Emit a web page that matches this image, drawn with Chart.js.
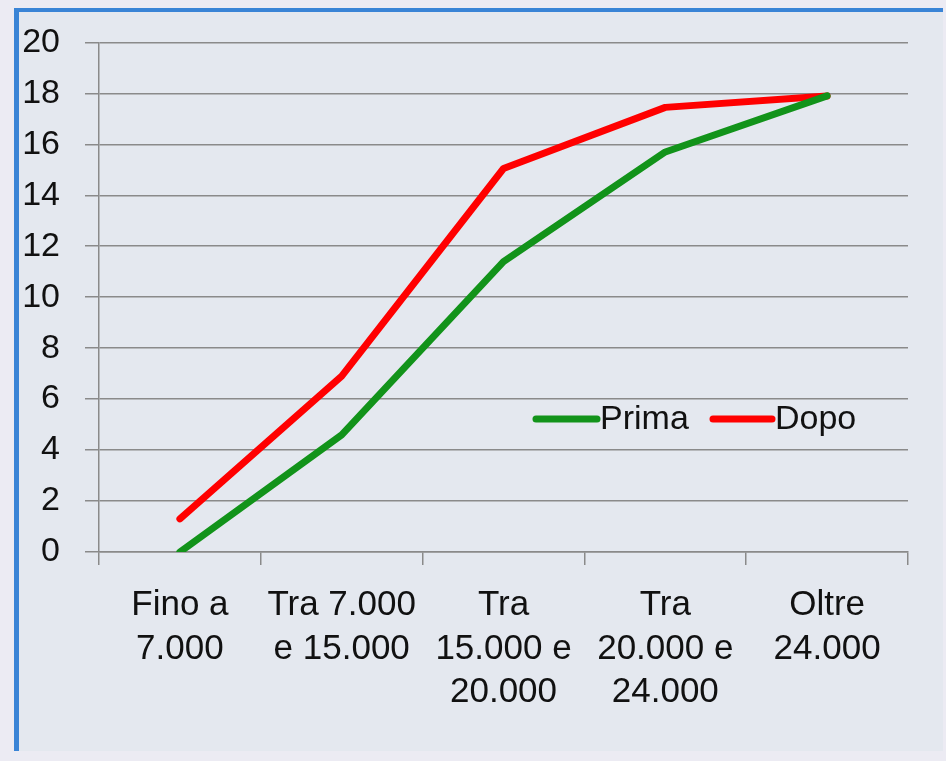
<!DOCTYPE html>
<html>
<head>
<meta charset="utf-8">
<script src="https://cdn.jsdelivr.net/npm/chart.js@4.4.1/dist/chart.umd.min.js"></script>
<style>
  html, body { margin: 0; padding: 0; background: #ecebf3; overflow: hidden; }
  #box {
    position: absolute; left: 14px; top: 8px;
    width: 924px; height: 739px;
    border-left: 5px solid #3a84d6; border-top: 4px solid #3a84d6;
    background: #e4e8ef;
  }
  #wrap { position: absolute; left: 19px; top: -3px; width: 927px; height: 764px; }
</style>
</head>
<body>
<div id="box"></div>
<div id="wrap"><canvas id="grafico"></canvas></div>
<script>
// fasce di reddito
var categorie = [
    ['Fino a', '7.000'],
    ['Tra 7.000', 'e 15.000'],
    ['Tra', '15.000 e', '20.000'],
    ['Tra', '20.000 e', '24.000'],
    ['Oltre', '24.000']
];
var prima = [0, 4.6, 11.4, 15.7, 17.9];
var dopo = [1.3, 6.9, 15.05, 17.45, 17.9];
var yTicks = [0, 2, 4, 6, 8, 10, 12, 14, 16, 18, 20];

var font = 'Liberation Sans, Arial, sans-serif';

// legenda dentro il grafico
var legendaPlugin = {
    id: 'legenda',
    afterDraw: function (chart) {
        var ctx = chart.ctx;
        var y = 422;
        var voci = [
            { x: 514, w: 67, ds: chart.data.datasets[0] },
            { x: 691, w: 65, ds: chart.data.datasets[1] }
        ];
        ctx.save();
        voci.forEach(function (v) {
            ctx.strokeStyle = v.ds.borderColor;
            ctx.lineWidth = 7;
            ctx.lineCap = 'round';
            ctx.beginPath();
            ctx.moveTo(v.x + 3, y);
            ctx.lineTo(v.x + v.w - 3, y);
            ctx.stroke();
            ctx.fillStyle = '#111';
            ctx.font = '34px ' + font;
            ctx.textBaseline = 'middle';
            ctx.fillText(v.ds.label, v.x + v.w, y + 1);
        });
        ctx.restore();
    }
};

var ctx = document.getElementById('grafico').getContext('2d');
var chart = new Chart(ctx, {
    type: 'line',
    data: {
        labels: categorie,
        datasets: [{
            label: 'Prima',
            data: prima,
            borderColor: '#12931a',
            borderWidth: 7,
            pointRadius: 0,
            tension: 0,
            borderCapStyle: 'round',
            borderJoinStyle: 'round'
        }, {
            label: 'Dopo',
            data: dopo,
            borderColor: '#ff0000',
            borderWidth: 7,
            pointRadius: 0,
            tension: 0,
            borderCapStyle: 'round',
            borderJoinStyle: 'round'
        }]
    },
    options: {
        responsive: true,
        maintainAspectRatio: false,
        animation: false,
        layout: { padding: { top: 15, right: 38, left: 0, bottom: 0 } },
        plugins: { legend: { display: false }, tooltip: { enabled: false } },
        scales: {
            x: {
                offset: true,
                grid: { offset: true, drawOnChartArea: false, color: '#8a8a8a', lineWidth: 1.5, tickLength: 13 },
                border: { display: true, color: '#8a8a8a', width: 1.5 },
                ticks: {
                    color: '#111', padding: 19, maxRotation: 0, autoSkip: false,
                    font: { family: font, size: 35, lineHeight: 1.24 }
                },
                afterFit: function (scale) { scale.height = 209; }
            },
            y: {
                min: 0, max: 20,
                afterBuildTicks: function (scale) {
                    scale.ticks = yTicks.map(function (v) { return { value: v }; });
                },
                grid: { color: '#8a8a8a', lineWidth: 1.5, tickLength: 14 },
                border: { display: true, color: '#8a8a8a', width: 1.5 },
                ticks: {
                    color: '#111', padding: 25,
                    font: { family: font, size: 34 }
                },
                afterFit: function (scale) { scale.width = 80; }
            }
        }
    },
    plugins: [legendaPlugin]
});
</script>
</body>
</html>
